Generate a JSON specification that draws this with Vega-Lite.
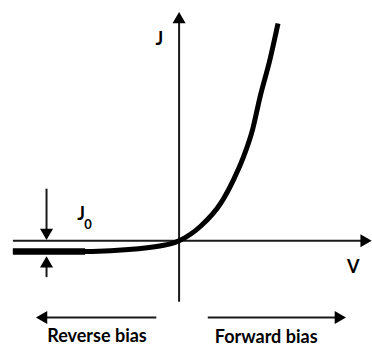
{
  "$schema": "https://vega.github.io/schema/vega-lite/v6.json",
  "width": 372,
  "height": 347,
  "autosize": {"type": "fit", "contains": "padding"},
  "padding": 0,
  "background": "white",
  "config": {"view": {"stroke": null}},
  "datasets": {
    "curve": [
      {"V": -1.68, "J": -0.11},
      {"V": -1.2, "J": -0.11},
      {"V": -0.88, "J": -0.108},
      {"V": -0.51, "J": -0.09},
      {"V": -0.18, "J": -0.05},
      {"V": -0.08, "J": -0.03},
      {"V": 0.0, "J": 0.0},
      {"V": 0.22, "J": 0.15},
      {"V": 0.42, "J": 0.38},
      {"V": 0.55, "J": 0.62},
      {"V": 0.65, "J": 0.85},
      {"V": 0.74, "J": 1.12},
      {"V": 0.82, "J": 1.47},
      {"V": 0.92, "J": 1.85},
      {"V": 1.0, "J": 2.21}
    ],
    "saturation": [
      {"V": -1.68, "J": -0.11},
      {"V": -0.95, "J": -0.109}
    ],
    "guides": [
      {"id": "V axis", "V": -1.68, "J": 0},
      {"id": "V axis", "V": 1.88, "J": 0},
      {"id": "J axis", "V": 0, "J": -0.62},
      {"id": "J axis", "V": 0, "J": 2.22},
      {"id": "J0 upper", "V": -1.34, "J": 0.53},
      {"id": "J0 upper", "V": -1.34, "J": 0.08},
      {"id": "J0 lower", "V": -1.34, "J": -0.21},
      {"id": "J0 lower", "V": -1.34, "J": -0.37},
      {"id": "reverse", "V": -1.38, "J": -0.78},
      {"id": "reverse", "V": -0.23, "J": -0.78},
      {"id": "forward", "V": 0.29, "J": -0.78},
      {"id": "forward", "V": 1.6, "J": -0.78}
    ],
    "heads": [
      {"V": 1.89, "J": 0, "dir": "triangle-right"},
      {"V": 0, "J": 2.27, "dir": "triangle-up"},
      {"V": -1.34, "J": 0.065, "dir": "triangle-down"},
      {"V": -1.34, "J": -0.215, "dir": "triangle-up"},
      {"V": -1.39, "J": -0.78, "dir": "triangle-left"},
      {"V": 1.63, "J": -0.78, "dir": "triangle-right"}
    ],
    "symbols": [
      {"V": -0.2, "J": 2.04, "label": "J"},
      {"V": 1.76, "J": -0.28, "label": "V"},
      {"V": -0.99, "J": 0.26, "label": "J"}
    ],
    "subscripts": [
      {"V": -0.92, "J": 0.16, "label": "0"}
    ],
    "regions": [
      {"V": -0.83, "J": -0.975, "label": "Reverse bias"},
      {"V": 0.88, "J": -0.99, "label": "Forward bias"}
    ]
  },
  "encoding": {
    "x": {
      "field": "V",
      "type": "quantitative",
      "scale": {"domain": [-1.78, 1.94], "nice": false, "zero": false},
      "axis": null
    },
    "y": {
      "field": "J",
      "type": "quantitative",
      "scale": {"domain": [-1.02, 2.45], "nice": false, "zero": false},
      "axis": null
    }
  },
  "layer": [
    {
      "data": {"name": "guides"},
      "mark": {"type": "line", "color": "#1a1a1a", "strokeWidth": 2, "strokeCap": "butt"},
      "encoding": {"detail": {"field": "id"}, "order": {"field": "J"}}
    },
    {
      "data": {"name": "heads"},
      "mark": {"type": "point", "filled": true, "color": "#000000", "opacity": 1, "size": 170},
      "encoding": {"shape": {"field": "dir", "type": "nominal", "scale": null}}
    },
    {
      "data": {"name": "curve"},
      "mark": {"type": "line", "color": "#000000", "strokeWidth": 5, "interpolate": "monotone", "strokeCap": "butt"}
    },
    {
      "data": {"name": "saturation"},
      "mark": {"type": "line", "color": "#000000", "strokeWidth": 6.5, "strokeCap": "butt"}
    },
    {
      "data": {"name": "symbols"},
      "mark": {"type": "text", "font": "Lato", "fontWeight": "bold", "fontSize": 18, "color": "#000000", "baseline": "middle", "align": "center"},
      "encoding": {"text": {"field": "label"}}
    },
    {
      "data": {"name": "subscripts"},
      "mark": {"type": "text", "font": "Lato", "fontWeight": "bold", "fontSize": 13, "color": "#000000", "baseline": "middle", "align": "center"},
      "encoding": {"text": {"field": "label"}}
    },
    {
      "data": {"name": "regions"},
      "mark": {"type": "text", "font": "Lato", "fontWeight": "bold", "fontSize": 18, "color": "#000000", "baseline": "middle", "align": "center"},
      "encoding": {"text": {"field": "label"}}
    }
  ]
}
